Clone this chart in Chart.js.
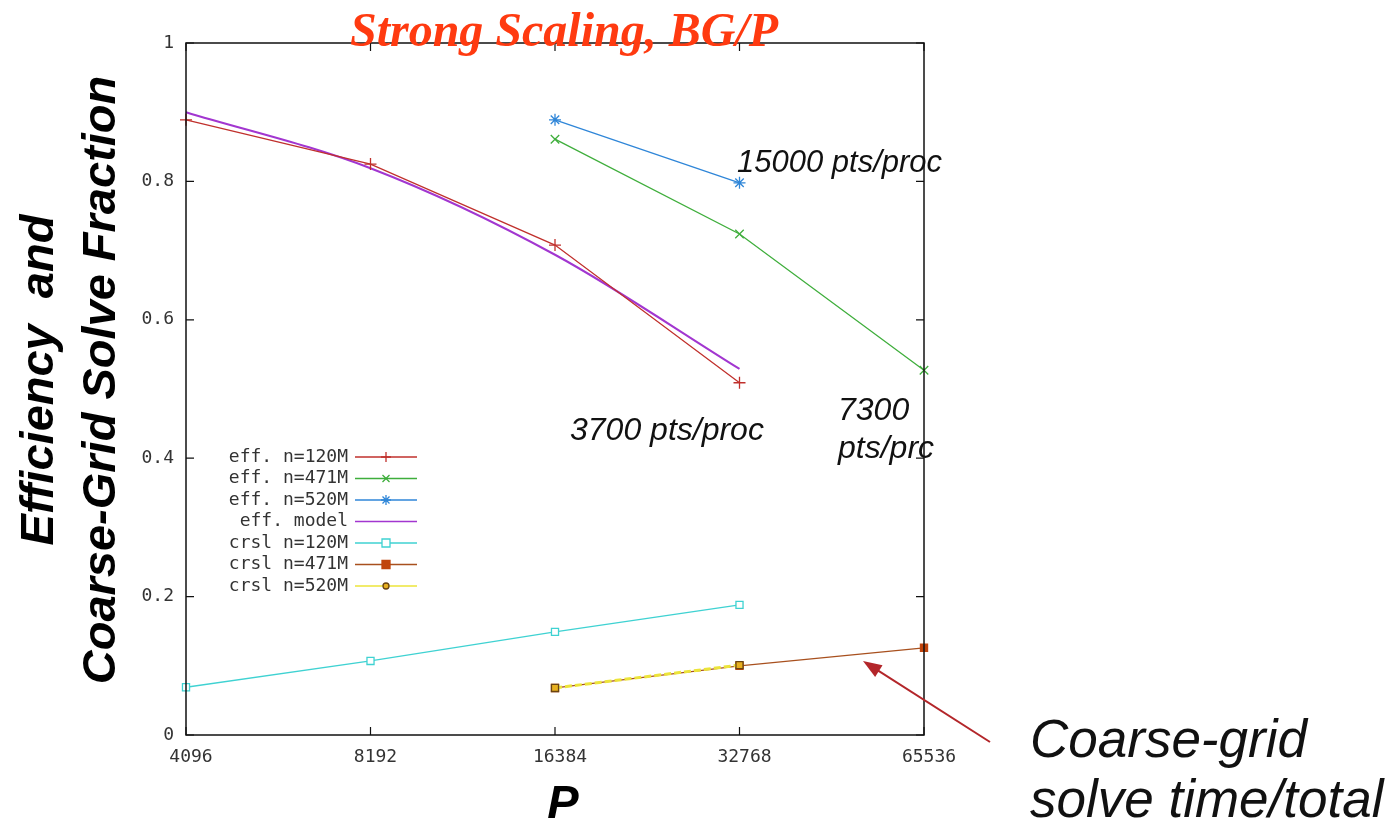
<!DOCTYPE html>
<html>
<head>
<meta charset="utf-8">
<script src="https://cdn.jsdelivr.net/npm/chart.js@4"></script>
<style>
  body { margin: 0; background: #fff; }
  #wrap { width: 1395px; height: 824px; }
</style>
</head>
<body>
<div id="wrap"><canvas id="myChart" width="1395" height="824"></canvas></div>
<script>
// processor counts
const procs = [4096, 8192, 16384, 32768, 65536];
const yTicks = [0, 0.2, 0.4, 0.6, 0.8, 1];

// efficiency
const effN120 = [0.889, 0.825, 0.708, 0.509];
const effN471 = [0.861, 0.724, 0.527];
const effN520 = [0.889, 0.798];
const effModel = [0.900, 0.819, 0.694, 0.529];

// coarse-grid solve fraction
const crslN120 = [0.069, 0.107, 0.149, 0.188];
const crslN471 = [0.068, 0.100, 0.126];
const crslN520 = [0.068, 0.101];

function pts(startIdx, vals) {
  return vals.map((v, i) => ({ x: procs[startIdx + i], y: v }));
}

const mono = "'DejaVu Sans Mono', 'Liberation Mono', monospace";

const legendRows = [
  { label: "eff. n=120M", idx: 0, marker: "cross" },
  { label: "eff. n=471M", idx: 1, marker: "crossRot" },
  { label: "eff. n=520M", idx: 2, marker: "star" },
  { label: "eff. model", idx: 3, marker: null },
  { label: "crsl n=120M", idx: 4, marker: "rect" },
  { label: "crsl n=471M", idx: 5, marker: "rect" },
  { label: "crsl n=520M", idx: 6, marker: "circle" },
];

function drawMarker(ctx, style, x, y, r, color, fill) {
  ctx.save();
  ctx.strokeStyle = color;
  ctx.lineWidth = 1.3;
  ctx.beginPath();
  if (style === "cross") {
    ctx.moveTo(x - r, y); ctx.lineTo(x + r, y);
    ctx.moveTo(x, y - r); ctx.lineTo(x, y + r);
    ctx.stroke();
  } else if (style === "crossRot") {
    ctx.moveTo(x - r * 0.7, y - r * 0.7); ctx.lineTo(x + r * 0.7, y + r * 0.7);
    ctx.moveTo(x - r * 0.7, y + r * 0.7); ctx.lineTo(x + r * 0.7, y - r * 0.7);
    ctx.stroke();
  } else if (style === "star") {
    ctx.moveTo(x - r, y); ctx.lineTo(x + r, y);
    ctx.moveTo(x, y - r); ctx.lineTo(x, y + r);
    ctx.moveTo(x - r * 0.7, y - r * 0.7); ctx.lineTo(x + r * 0.7, y + r * 0.7);
    ctx.moveTo(x - r * 0.7, y + r * 0.7); ctx.lineTo(x + r * 0.7, y - r * 0.7);
    ctx.stroke();
  } else if (style === "rect") {
    ctx.fillStyle = fill;
    ctx.rect(x - r * 0.8, y - r * 0.8, r * 1.6, r * 1.6);
    ctx.fill();
    ctx.stroke();
  } else if (style === "circle") {
    ctx.fillStyle = fill;
    ctx.arc(x, y, r * 0.6, 0, Math.PI * 2);
    ctx.fill();
    ctx.stroke();
  }
  ctx.restore();
}

const decorPlugin = {
  id: "decor",
  afterDatasetsDraw(chart) {
    const ctx = chart.ctx;
    const a = chart.chartArea;
    const xs = chart.scales.x;
    const ys = chart.scales.y;
    ctx.save();

    // frame and inner tick marks (gnuplot style)
    ctx.strokeStyle = "#111";
    ctx.lineWidth = 1.5;
    ctx.strokeRect(a.left, a.top, a.right - a.left, a.bottom - a.top);
    ctx.lineWidth = 1.2;
    ctx.beginPath();
    yTicks.forEach((t) => {
      const py = ys.getPixelForValue(t);
      ctx.moveTo(a.left, py); ctx.lineTo(a.left + 8, py);
      ctx.moveTo(a.right, py); ctx.lineTo(a.right - 8, py);
    });
    procs.forEach((p) => {
      const px = xs.getPixelForValue(p);
      ctx.moveTo(px, a.bottom); ctx.lineTo(px, a.bottom - 8);
      ctx.moveTo(px, a.top); ctx.lineTo(px, a.top + 8);
    });
    ctx.stroke();

    // legend
    ctx.font = "18px " + mono;
    ctx.textAlign = "right";
    ctx.textBaseline = "middle";
    legendRows.forEach((row, i) => {
      const ds = chart.data.datasets[row.idx];
      const y = 457 + i * 21.5;
      ctx.fillStyle = "#333";
      ctx.fillText(row.label, 348, y);
      ctx.strokeStyle = ds.borderColor;
      ctx.lineWidth = 1.3;
      ctx.beginPath();
      ctx.moveTo(355, y); ctx.lineTo(417, y);
      ctx.stroke();
      if (row.marker) {
        drawMarker(ctx, row.marker, 386, y, 5, ds.pointBorderColor || ds.borderColor, ds.pointBackgroundColor);
      }
    });

    // title
    ctx.textAlign = "center";
    ctx.textBaseline = "alphabetic";
    ctx.fillStyle = "#ff3a10";
    ctx.font = "italic bold 48px 'Liberation Serif', 'Times New Roman', serif";
    ctx.fillText("Strong Scaling, BG/P", 564, 46);

    // axis titles
    ctx.fillStyle = "#000";
    ctx.font = "italic bold 47px 'Liberation Sans', Arial, sans-serif";
    ctx.fillText("P", 563, 818);
    ctx.save();
    ctx.translate(0, 380);
    ctx.rotate(-Math.PI / 2);
    ctx.textBaseline = "middle";
    ctx.fillText("Efficiency  and", 0, 40);
    ctx.fillText("Coarse-Grid Solve Fraction", 0, 102);
    ctx.restore();

    // annotations
    ctx.textAlign = "left";
    ctx.fillStyle = "#111";
    ctx.font = "italic 31px 'Liberation Sans', Arial, sans-serif";
    ctx.fillText("15000 pts/proc", 737, 172);
    ctx.font = "italic 32px 'Liberation Sans', Arial, sans-serif";
    ctx.fillText("3700 pts/proc", 570, 440);
    ctx.fillText("7300", 838, 420);
    ctx.fillText("pts/prc", 838, 458);
    ctx.font = "italic 53px 'Liberation Sans', Arial, sans-serif";
    ctx.fillText("Coarse-grid", 1030, 757);
    ctx.fillText("solve time/total", 1030, 817);

    // arrow
    ctx.strokeStyle = "#b3262a";
    ctx.fillStyle = "#b3262a";
    ctx.lineWidth = 2;
    const x0 = 990, y0 = 742, x1 = 863, y1 = 661;
    const ang = Math.atan2(y1 - y0, x1 - x0);
    ctx.beginPath();
    ctx.moveTo(x0, y0);
    ctx.lineTo(x1 - Math.cos(ang) * 12, y1 - Math.sin(ang) * 12);
    ctx.stroke();
    ctx.beginPath();
    ctx.moveTo(x1, y1);
    ctx.lineTo(x1 - Math.cos(ang - 0.35) * 20, y1 - Math.sin(ang - 0.35) * 20);
    ctx.lineTo(x1 - Math.cos(ang + 0.35) * 20, y1 - Math.sin(ang + 0.35) * 20);
    ctx.closePath();
    ctx.fill();

    ctx.restore();
  },
};

function createChart() {
  const line = (data, color, pointStyle, extra) =>
    Object.assign(
      {
        data: data,
        borderColor: color,
        backgroundColor: color,
        pointBorderColor: color,
        pointBackgroundColor: color,
        borderWidth: 1.3,
        pointStyle: pointStyle,
        pointRadius: 6,
        pointBorderWidth: 1.3,
        tension: 0,
        fill: false,
        clip: false,
      },
      extra || {}
    );

  const data = {
    datasets: [
      line(pts(0, effN120), "#c0302c", "cross"),
      line(pts(2, effN471), "#3fae3c", "crossRot"),
      line(pts(2, effN520), "#2f86d8", "star"),
      line(pts(0, effModel), "#a236d0", "circle", { pointRadius: 0, borderWidth: 2, cubicInterpolationMode: "monotone" }),
      line(pts(0, crslN120), "#3fd2d2", "rect", { pointBackgroundColor: "#ffffff", pointRadius: 5 }),
      line(pts(2, crslN471), "#a8501e", "rect", { pointBackgroundColor: "#c0440c", pointBorderColor: "#c0440c", pointRadius: 5, order: 2 }),
      line(pts(2, crslN520), "#ece43a", "rect", {
        pointBackgroundColor: "#e8b020",
        pointBorderColor: "#6a4410",
        pointRadius: 5,
        borderWidth: 3,
        borderDash: [7, 3],
        order: 1,
      }),
    ],
  };

  const config = {
    type: "line",
    data,
    options: {
      responsive: false,
      animation: false,
      layout: { padding: { left: 0, right: 471, top: 43, bottom: 0 } },
      plugins: { legend: { display: false }, tooltip: { enabled: false } },
      scales: {
        x: {
          type: "logarithmic",
          min: 4096,
          max: 65536,
          afterBuildTicks: (scale) => {
            scale.ticks = procs.map((p) => ({ value: p }));
          },
          afterFit: (scale) => {
            scale.height = 89;
          },
          ticks: {
            autoSkip: false,
            maxRotation: 0,
            padding: 12,
            labelOffset: 5,
            color: "#333",
            font: { family: mono, size: 18 },
            callback: (v) => String(v),
          },
          grid: { display: false, drawTicks: false },
          border: { display: false },
        },
        y: {
          min: 0,
          max: 1,
          afterBuildTicks: (scale) => {
            scale.ticks = yTicks.map((t) => ({ value: t }));
          },
          afterFit: (scale) => {
            scale.width = 186;
          },
          ticks: {
            padding: 12,
            color: "#333",
            font: { family: mono, size: 18 },
            callback: (v) => String(v),
          },
          grid: { display: false, drawTicks: false },
          border: { display: false },
        },
      },
    },
    plugins: [decorPlugin],
  };
  return new Chart(document.getElementById("myChart"), config);
}

createChart();
</script>
</body>
</html>
